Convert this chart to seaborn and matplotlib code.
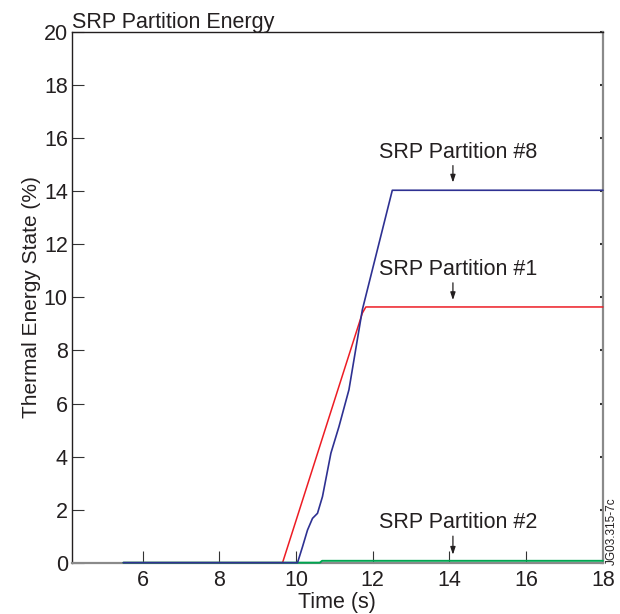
import numpy as np
import pandas as pd
import matplotlib
matplotlib.use("Agg")
import matplotlib.pyplot as plt
import seaborn as sns

# values
time_p1 = [5.5, 9.65, 11.73, 11.82, 18.0]
energy_p1 = [0.0, 0.0, 9.41, 9.64, 9.64]

time_p8 = [5.5, 10.04, 10.17, 10.30, 10.43, 10.56, 10.69, 10.91, 11.12, 11.38, 11.73, 12.51, 18.0]
energy_p8 = [0.0, 0.0, 0.6, 1.23, 1.67, 1.86, 2.49, 4.13, 5.13, 6.52, 9.54, 14.04, 14.04]

time_p2 = [5.5, 10.62, 10.68, 18.0]
energy_p2 = [0.0, 0.0, 0.07, 0.07]

x_ticks = [6, 8, 10, 12, 14, 16, 18]
y_ticks = [0, 2, 4, 6, 8, 10, 12, 14, 16, 18, 20]

labels = ["SRP Partition #8", "SRP Partition #1", "SRP Partition #2"]
label_y = [15.27, 10.85, 1.31]      # text baseline
arrow_top = [14.97, 10.55, 1.0]
arrow_tip = [14.33, 9.9, 0.3]

sns.set_style("white")
plt.rcParams["font.family"] = ["Liberation Sans", "DejaVu Sans"]

fig = plt.figure(figsize=(6.2, 6.14), dpi=100)
ax = fig.add_axes([0.116, 0.0836, 0.8565, 0.864])

sns.lineplot(x=time_p1, y=energy_p1, color="#ed1c24", linewidth=1.1, estimator=None, sort=False, ax=ax)
sns.lineplot(x=time_p2, y=energy_p2, color="#00a651", linewidth=1.4, estimator=None, sort=False, ax=ax)
sns.lineplot(x=time_p8, y=energy_p8, color="#2e3192", linewidth=1.2, estimator=None, sort=False, ax=ax)
for ln in ax.get_lines():
    ln.set_zorder(3)
    ln.set_clip_on(False)

ax.set_xlim(4.16, 18)
ax.set_ylim(0, 20)
ax.set_xticks(x_ticks)
ax.set_yticks(y_ticks)
ax.tick_params(axis="both", direction="in", length=8.5, width=0.8, color="#333333",
               labelsize=15.5, labelcolor="#231f20")
ax.tick_params(axis="y", pad=3, left=True, right=True)
ax.tick_params(axis="x", pad=5, bottom=True)
for t in ax.yaxis.get_major_ticks():
    t.tick2line.set_markersize(2.5)
    t.tick2line.set_markeredgewidth(1.5)

for side in ["top", "left"]:
    ax.spines[side].set_color("#231f20")
    ax.spines[side].set_linewidth(1.0)
for side in ["right", "bottom"]:
    ax.spines[side].set_color("#8a8a8a")
    ax.spines[side].set_linewidth(1.6)

ax.set_xlabel("Time (s)", fontsize=15.5, color="#231f20", labelpad=1)
ax.set_ylabel("Thermal Energy State (%)", fontsize=15, color="#231f20", labelpad=2)
ax.set_title("SRP Partition Energy", loc="left", fontsize=15.5, color="#231f20", pad=3)

for lab, ly, at, tip in zip(labels, label_y, arrow_top, arrow_tip):
    ax.text(12.16, ly, lab, fontsize=15.5, color="#231f20", ha="left", va="baseline")
    ax.annotate("", xy=(14.09, tip), xytext=(14.09, at),
                arrowprops=dict(arrowstyle="-|>,head_length=0.45,head_width=0.15",
                                color="#231f20", lw=0.9, shrinkA=0, shrinkB=0))

fig.text(0.987, 0.079, "JG03.315-7c", rotation=90, fontsize=8.5, color="#231f20",
         ha="center", va="bottom")

fig.savefig("out.png", dpi=100)
